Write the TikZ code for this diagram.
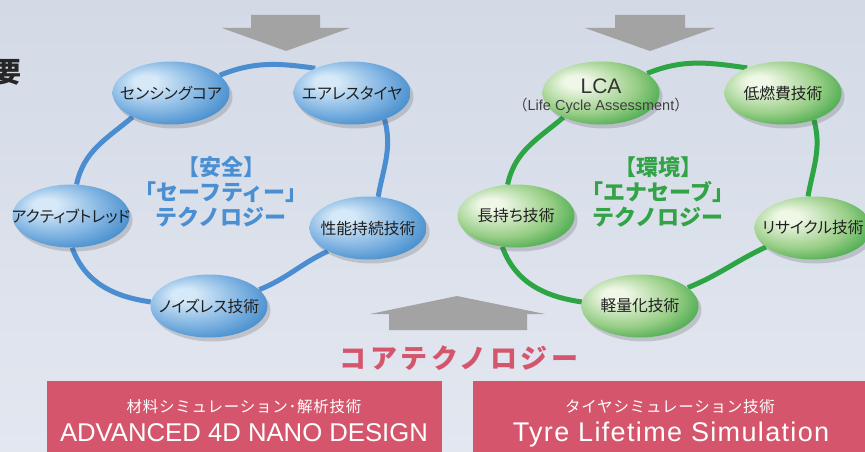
\documentclass[tikz,border=0pt]{standalone}
\usepackage{fontspec}
\setmainfont{Liberation Sans}
\newfontfamily\jp[RawFeature=+palt]{Noto Sans CJK JP}
\newfontfamily\jpf{Noto Sans CJK JP}
\usetikzlibrary{shapes.geometric,shadows}
\definecolor{bgtop}{HTML}{D3DAE6}
\definecolor{bgbot}{HTML}{E3E7F0}
\definecolor{ringblue}{HTML}{4A8DD0}
\definecolor{ringgreen}{HTML}{2EA545}
\definecolor{txtblue}{HTML}{4B8FD3}
\definecolor{txtgreen}{HTML}{32A346}
\definecolor{pinkbox}{HTML}{D5566C}
\definecolor{arrowgray}{HTML}{A3A3A3}
\definecolor{bl1}{HTML}{D6E9F8}
\definecolor{bl2}{HTML}{7AB0E0}
\definecolor{bl3}{HTML}{287AC2}
\definecolor{gr1}{HTML}{EFF7E6}
\definecolor{gr2}{HTML}{98CE86}
\definecolor{gr3}{HTML}{219832}
\pgfdeclareradialshading{blueball}{\pgfpoint{-12bp}{10bp}}{color(0bp)=(bl1); color(5bp)=(bl1); color(22bp)=(bl2); color(37bp)=(bl3); color(50bp)=(bl3)}
\pgfdeclareradialshading{greenball}{\pgfpoint{-12bp}{10bp}}{color(0bp)=(gr1); color(5bp)=(gr1); color(22bp)=(gr2); color(37bp)=(gr3); color(50bp)=(gr3)}
\pgfdeclarelayer{bg}
\pgfsetlayers{bg,main}
\tikzset{
  lbl/.style={text=black!88, font=\jp\fontsize{15.8}{17}\selectfont, inner sep=0pt},
  ball/.style={ellipse, minimum width=117pt, minimum height=63pt, inner sep=0pt,
    drop shadow={shadow xshift=3pt, shadow yshift=-4pt, opacity=0.22, fill=black!70}},
  bball/.style={ball, shade, shading=blueball, label={[lbl]center:#1}},
  gball/.style={ball, shade, shading=greenball, label={[lbl]center:#1}},
  bring/.style={draw=ringblue, line width=5pt},
  gring/.style={draw=ringgreen, line width=5pt},
  center/.style={align=center, font=\jpf\bfseries\fontsize{22}{25}\selectfont},
  pbox/.style={fill=pinkbox, minimum width=395pt, minimum height=80pt, anchor=north west, inner sep=0pt},
  boxsub/.style={text=white, font=\jpf\fontsize{15.5}{17}\selectfont\addfontfeature{LetterSpace=5}},
  boxmain/.style={text=white, font=\fontsize{25.7}{28}\selectfont},
  garrow/.style={fill=arrowgray}
}
\begin{document}
\begin{tikzpicture}[x=1pt,y=1pt]
\useasboundingbox (0,0) rectangle (865,-452);
\begin{pgfonlayer}{bg}
\shade[top color=bgtop, bottom color=bgbot] (0,0) rectangle (865,-452);
\end{pgfonlayer}
% top arrows
\fill[garrow] (251,-15) -- (320,-15) -- (320,-28) -- (350,-28) -- (286,-51) -- (222,-28) -- (251,-28) -- cycle;
\fill[garrow] (615,-15) -- (685,-15) -- (685,-28) -- (715,-28) -- (650,-51) -- (585,-28) -- (615,-28) -- cycle;
% bottom up arrow
\fill[garrow] (389,-330) -- (389,-314) -- (370,-314) -- (457,-296) -- (545,-314) -- (527,-314) -- (527,-330) -- cycle;
% partial title char
\node[font=\jpf\bfseries\fontsize{28}{28}\selectfont, text=black!85, inner sep=0pt] (yo) at (8,-72) {要};
% blue ellipses
\node[bball=センシングコア] (s1) at (171,-93) {};
\node[bball=エアレスタイヤ] (s2) at (352,-93) {};
\node[bball=性能持続技術] (s3) at (368,-228) {};
\node[bball=ノイズレス技術] (s4) at (209,-306) {};
\node[bball=アクティブトレッド] (s5) at (71,-216) {};
% green ellipses
\node[gball={}] (g1) at (601,-93) {};
\node[gball=低燃費技術] (g2) at (783,-93) {};
\node[gball=リサイクル技術] (g3) at (813,-228) {};
\node[gball=軽量化技術] (g4) at (640,-306) {};
\node[gball=長持ち技術] (g5) at (516,-216) {};
\node[text=black!80, font=\fontsize{21}{22}\selectfont, inner sep=0pt] (lca) at (601,-86) {LCA};
\node[text=black!75, font=\fontsize{14.5}{16}\selectfont, inner sep=0pt] (lcasub) at (601,-106) {{\jpf（}Life Cycle Assessment{\jpf）}};
% rings
\begin{pgfonlayer}{bg}
\draw[bring] (s1.20) to[out=22,in=172] (s2.146);
\draw[bring] (s2.-39) to[out=-75,in=80] (s3.72);
\draw[bring] (s3.210) to[out=205,in=22] (s4.18);
\draw[bring] (s4.176) to[out=172,in=-70] (s5.-88);
\draw[bring] (s5.80) to[out=78,in=220] (s1.212);
\draw[gring] (g1.23) to[out=22,in=172] (g2.145);
\draw[gring] (g2.-41) to[out=-75,in=80] (g3.99);
\draw[gring] (g3.202) to[out=205,in=22] (g4.21);
\draw[gring] (g4.176) to[out=172,in=-70] (g5.-114);
\draw[gring] (g5.105) to[out=78,in=220] (g1.213);
\end{pgfonlayer}
% center texts
\node[center, text=txtblue] (safe) at (221,-192) {【安全】\\「セーフティー」\\テクノロジー};
\node[center, text=txtgreen] (eco) at (658,-192) {【環境】\\「エナセーブ」\\テクノロジー};
% core technology
\node[text=pinkbox, font=\jpf\bfseries\fontsize{27}{28}\selectfont\addfontfeature{LetterSpace=13}, inner sep=0pt] (core) at (459,-358) {コアテクノロジー};
% boxes
\node[pbox] (box1) at (47,-381) {};
\node[pbox, minimum width=392pt] (box2) at (473,-381) {};
\node[boxsub] (b1s) at (244,-407) {材料シミュレーション･解析技術};
\node[boxmain] (b1m) at (244,-433) {ADVANCED 4D NANO DESIGN};
\node[boxsub] (b2s) at (670,-407) {タイヤシミュレーション技術};
\node[boxmain, font=\fontsize{27}{28}\selectfont\addfontfeature{LetterSpace=5}] (b2m) at (671,-435) {Tyre Lifetime Simulation};
\end{tikzpicture}
\end{document}
